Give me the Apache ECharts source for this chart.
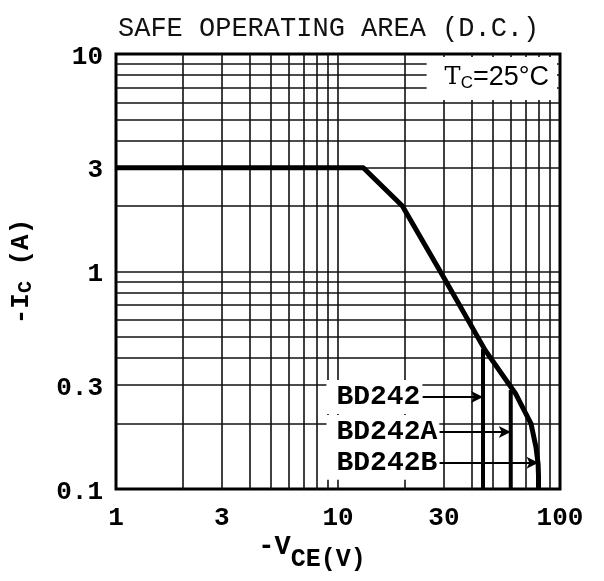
<!DOCTYPE html>
<html>
<head>
<meta charset="utf-8">
<script src="https://cdn.jsdelivr.net/npm/echarts@6/dist/echarts.min.js"></script>
<style>
html, body { margin: 0; padding: 0; background: #fff; }
#soa { width: 604px; height: 581px; }
</style>
</head>
<body>
<div id="soa"></div>
<script>
// axis tick labels
var xTicks = [1, 3, 10, 30, 100];
var yTicks = [0.1, 0.3, 1, 3, 10];
// log paper grid lines
var xGrid = [2, 3, 4, 5, 6, 7, 8, 9, 10, 20, 30, 40, 50, 60, 70, 80, 90];
var yGrid = [0.2, 0.3, 0.4, 0.5, 0.6, 0.7, 0.8, 0.9, 1, 2, 3, 4, 5, 6, 7, 8, 9];
// SOA boundary, -VCE (V) / -IC (A)
var soaV = [1, 13, 19.5, 30.5, 46, 63, 74, 78, 79.7, 80, 80];
var soaI = [3, 3, 2.0, 0.91, 0.435, 0.275, 0.2, 0.155, 0.13, 0.115, 0.1];
// type voltage limits
var types = ['BD242', 'BD242A', 'BD242B'];
var typeV = [45, 60, 80];
var typeTop = [0.44, 0.285, 0.1];
var arrowI = [0.265, 0.183, 0.132];
var arrowFromV = [24, 28.6, 28.6];

var mono = 'Liberation Mono';

var chart = echarts.init(document.getElementById('soa'));

var soaData = soaV.map(function (v, i) { return [v, soaI[i]]; });

var gridLines = xGrid.map(function (v) { return { xAxis: v }; })
  .concat(yGrid.map(function (v) { return { yAxis: v }; }));

var solid = { opacity: 1 };

var series = [
  {
    // paper grid
    type: 'line',
    data: [],
    z: 1,
    silent: true,
    markLine: {
      silent: true,
      z: 1,
      symbol: 'none',
      label: { show: false },
      lineStyle: { color: '#111', width: 1.6, type: 'solid' },
      data: gridLines
    }
  },
  {
    name: 'SOA',
    type: 'line',
    data: soaData,
    z: 4,
    symbol: 'none',
    lineStyle: { color: '#000', width: 5, join: 'round' }
  },
  {
    // x tick labels
    type: 'scatter',
    data: xTicks.map(function (v) { return [v, 0.1]; }),
    symbolSize: 0,
    itemStyle: solid,
    z: 5,
    label: {
      show: true, position: 'bottom', distance: 16,
      formatter: function (p) { return String(p.value[0]); },
      fontFamily: mono, fontWeight: 'bold', fontSize: 26, color: '#000'
    }
  },
  {
    // y tick labels
    type: 'scatter',
    data: yTicks.map(function (v) { return [1, v]; }),
    symbolSize: 0,
    itemStyle: solid,
    z: 5,
    label: {
      show: true, position: 'left', distance: 13, offset: [0, 3],
      formatter: function (p) { return String(p.value[1]); },
      fontFamily: mono, fontWeight: 'bold', fontSize: 26, color: '#000'
    }
  },
  {
    // type labels with arrows
    type: 'scatter',
    data: types.map(function (t, i) { return { name: t, value: [arrowFromV[i], arrowI[i]] }; }),
    symbolSize: 0,
    itemStyle: solid,
    z: 6,
    label: {
      show: true, position: 'left', distance: 0,
      formatter: '{b}',
      fontFamily: mono, fontWeight: 'bold', fontSize: 28, color: '#000',
      backgroundColor: '#fff', padding: [3, 2, 3, 10]
    },
    markLine: {
      silent: true,
      z: 6,
      symbol: ['none', 'arrow'],
      symbolSize: [9, 12],
      label: { show: false },
      lineStyle: { color: '#000', width: 1.8, type: 'solid' },
      data: types.map(function (t, i) {
        return [{ coord: [arrowFromV[i], arrowI[i]] }, { coord: [typeV[i], arrowI[i]] }];
      })
    }
  },
  {
    // Tc annotation
    type: 'scatter',
    data: [[100, 10]],
    symbolSize: 0,
    itemStyle: solid,
    z: 6,
    label: {
      show: true, position: [-3, 3], align: 'right', verticalAlign: 'top',
      backgroundColor: '#fff', padding: [8, 8, 9, 18],
      formatter: '{t|T}{c|C}{n|=25°C}',
      rich: {
        t: { fontFamily: 'DejaVu Serif', fontSize: 24, color: '#000', lineHeight: 26 },
        c: { fontFamily: 'Liberation Sans', fontSize: 17, color: '#000', padding: [10, 0, 0, 0], lineHeight: 26 },
        n: { fontFamily: 'Liberation Sans', fontSize: 27, color: '#000', lineHeight: 26 }
      }
    }
  }
];

// vertical voltage limits BD242 / BD242A
for (var k = 0; k < 2; k++) {
  series.push({
    name: types[k],
    type: 'line',
    data: [[typeV[k], typeTop[k]], [typeV[k], 0.1]],
    z: 4,
    symbol: 'none',
    lineStyle: { color: '#000', width: 4 }
  });
}

var option = {
  backgroundColor: '#fff',
  animation: false,
  title: {
    text: 'SAFE OPERATING AREA (D.C.)',
    left: 113, top: 10,
    textStyle: { fontFamily: mono, fontWeight: 'normal', fontSize: 27, color: '#111' }
  },
  grid: {
    left: 113, right: 44, top: 54, bottom: 92,
    show: true, borderColor: '#000', borderWidth: 3, backgroundColor: '#fff'
  },
  xAxis: {
    type: 'log', logBase: 10, min: 1, max: 100,
    axisLine: { show: false }, axisTick: { show: false },
    axisLabel: { show: false }, splitLine: { show: false },
    name: '{a|-V}{b|CE(V)}',
    nameLocation: 'middle', nameGap: 44,
    nameTextStyle: {
      padding: [0, 52, 0, 0],
      rich: {
        a: { fontFamily: mono, fontWeight: 'bold', fontSize: 27, color: '#000', padding: [0, 0, 10, 0] },
        b: { fontFamily: mono, fontWeight: 'bold', fontSize: 25, color: '#000', padding: [14, 0, 0, 0] }
      }
    }
  },
  yAxis: {
    type: 'log', logBase: 10, min: 0.1, max: 10,
    axisLine: { show: false }, axisTick: { show: false },
    axisLabel: { show: false }, splitLine: { show: false },
    name: '{a|-I}{b|C}{a| (A)}',
    nameLocation: 'middle', nameGap: 80, nameRotate: 90,
    nameTextStyle: {
      rich: {
        a: { fontFamily: mono, fontWeight: 'bold', fontSize: 26, color: '#000' },
        b: { fontFamily: mono, fontWeight: 'bold', fontSize: 20, color: '#000', padding: [10, 0, 0, 0] }
      }
    }
  },
  series: series
};

chart.setOption(option);
</script>
</body>
</html>
